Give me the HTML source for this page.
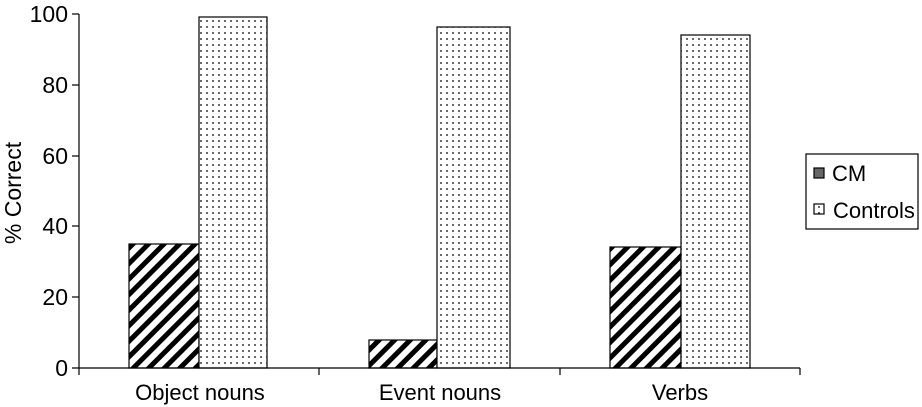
<!DOCTYPE html><html><head><style>body{margin:0;background:#fff}svg{display:block}text{font-family:"Liberation Sans",Arial,sans-serif;fill:#000}</style></head><body>
<svg width="922" height="407" viewBox="0 0 922 407">
<defs>
<pattern id="h" patternUnits="userSpaceOnUse" width="11" height="11" patternTransform="rotate(45)"><rect width="11" height="11" fill="#fff"/><rect x="0" y="0" width="5" height="11" fill="#000"/></pattern>
<pattern id="d" patternUnits="userSpaceOnUse" width="6" height="6"><rect width="6" height="6" fill="#fff"/><circle cx="3" cy="3" r="0.9" fill="#000"/></pattern>
</defs>
<g stroke="#000" stroke-width="1.2">
<rect x="129" y="244" width="70" height="124" fill="url(#h)"/>
<rect x="199" y="17" width="68" height="351" fill="url(#d)"/>
<rect x="369" y="340" width="68" height="28" fill="url(#h)"/>
<rect x="437" y="27" width="73" height="341" fill="url(#d)"/>
<rect x="610" y="247" width="71" height="121" fill="url(#h)"/>
<rect x="681" y="35" width="69" height="333" fill="url(#d)"/>
<line x1="79" y1="14" x2="79" y2="375"/>
<line x1="72" y1="368" x2="800" y2="368"/>
<line x1="72" y1="14" x2="79" y2="14"/><line x1="72" y1="85" x2="79" y2="85"/><line x1="72" y1="156" x2="79" y2="156"/><line x1="72" y1="226" x2="79" y2="226"/><line x1="72" y1="297" x2="79" y2="297"/>
<line x1="319" y1="368" x2="319" y2="375"/><line x1="560" y1="368" x2="560" y2="375"/><line x1="800" y1="368" x2="800" y2="375"/>
<rect x="806" y="154" width="112" height="75" fill="#fff"/>
<rect x="814" y="168" width="10" height="10" fill="#666"/>
<rect x="814" y="204" width="10" height="10" fill="url(#d)"/>
</g>
<g font-size="23" text-anchor="end">
<text x="68" y="22">100</text><text x="68" y="93">80</text><text x="68" y="164">60</text><text x="68" y="234">40</text><text x="68" y="305">20</text><text x="68" y="376">0</text>
</g>
<g font-size="22" text-anchor="middle">
<text x="200" y="400">Object nouns</text><text x="440" y="400">Event nouns</text><text x="680" y="400">Verbs</text>
<text transform="translate(21,193) rotate(-90)" font-size="23">% Correct</text>
</g>
<text x="832" y="181" font-size="22">CM</text>
<text x="833" y="218" font-size="22">Controls</text>
</svg></body></html>
